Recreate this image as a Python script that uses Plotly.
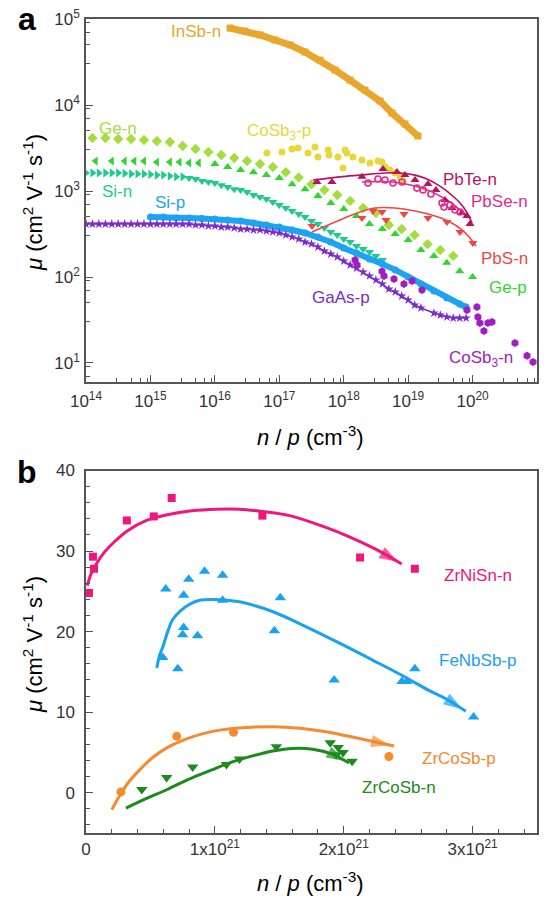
import plotly.graph_objects as go

FONT = "Arial, Liberation Sans, Helvetica, sans-serif"

# ---------------- Panel a data (n in cm^-3, mu in cm^2 V^-1 s^-1) ----------------
insb_n = [1.72e16, 2.94e16, 5.02e16, 8.58e16, 1.47e17, 2.51e17, 4.29e17, 7.33e17,
          1.25e18, 2.14e18, 3.66e18, 5.61e18, 8.93e18, 1.42e19]
insb_mu = [78500, 72400, 65200, 57000, 49900, 41300, 33300, 25500,
           19500, 14900, 11100, 8070, 6010, 4360]

gen_n = [1.26e14, 2.0e14, 3.16e14, 5.01e14, 7.94e14, 1.26e15, 2.0e15, 3.16e15, 5.01e15, 7.94e15,
         1.26e16, 2.0e16, 3.16e16, 5.01e16, 7.94e16, 1.26e17, 2.0e17, 3.16e17, 5.01e17, 7.94e17,
         1.26e18, 2.0e18, 3.16e18, 5.01e18, 7.94e18, 1.26e19, 2.0e19, 3.16e19, 5.01e19]
gen_mu = [4130, 4130, 4030, 4030, 3920, 3820, 3710, 3330, 3080, 2840,
          2620, 2420, 2230, 2060, 1900, 1650, 1440, 1200, 1030, 898,
          767, 634, 555, 403, 362, 308, 241, 206, 176]

gep1_n = [1.41e14, 2.51e14, 3.98e14, 5.62e14, 7.94e14, 1.26e15, 2.0e15, 2.82e15, 3.98e15, 5.62e15]
gep1_mu = [2230, 2230, 2230, 2230, 2230, 2170, 2170, 2170, 2120, 2120]
gep2_n = [1.0e16, 1.58e16, 2.51e16, 3.98e16, 6.31e16, 1.0e17, 1.58e17, 2.51e17, 3.98e17, 6.31e17,
          1.0e18, 1.58e18, 2.51e18, 3.98e18, 6.31e18, 1.0e19, 1.58e19, 2.51e19, 3.98e19, 6.31e19, 1.0e20]
gep2_mu = [2060, 1900, 1750, 1650, 1530, 1420, 1200, 1050, 875, 725,
           618, 512, 413, 361, 316, 269, 206, 175, 146, 117, 100]

sin1_n = [1.0e14, 1.26e14, 1.58e14, 2.0e14, 2.51e14, 3.16e14, 3.98e14, 5.01e14, 6.31e14, 7.94e14,
          1.0e15, 1.26e15, 1.58e15, 2.0e15, 2.51e15, 3.16e15]
sin1_mu = [1620, 1620, 1620, 1620, 1620, 1620, 1600, 1580, 1580, 1580,
           1560, 1530, 1530, 1490, 1460, 1460]
sin2_n = [3.98e15, 5.01e15, 6.31e15, 7.94e15,
          1.0e16, 1.26e16, 1.58e16, 2.0e16, 2.51e16, 3.16e16, 3.98e16, 5.01e16, 6.31e16, 7.94e16,
          1.0e17, 1.26e17, 1.58e17, 2.0e17, 2.51e17, 3.16e17, 3.98e17, 5.01e17, 6.31e17, 7.94e17,
          1.0e18, 1.26e18, 1.58e18, 2.0e18, 2.51e18, 3.16e18, 3.98e18]
sin2_mu = [1420, 1380, 1310, 1270,
           1240, 1170, 1110, 1050, 1030, 973, 898, 851, 807, 745,
           687, 634, 585, 541, 499, 448, 413, 372, 334, 308,
           277, 255, 229, 212, 195, 175, 158]

sip_n = [1.0e15, 1.58e15, 2.51e15, 3.98e15, 6.31e15, 1.0e16, 1.58e16, 2.51e16, 3.98e16, 6.31e16,
         1.0e17, 1.58e17, 2.51e17, 3.98e17, 6.31e17, 1.0e18, 1.58e18, 2.51e18, 3.98e18, 6.31e18,
         1.0e19, 1.58e19, 2.51e19, 3.98e19, 6.31e19, 7.94e19]
sip_mu = [499, 499, 485, 485, 479, 472, 460, 448, 424, 403,
          381, 352, 325, 292, 255, 217, 190, 162, 142, 121,
          100, 83.0, 68.7, 57.0, 48.5, 44.8]

gaas_n = [1.0e14, 1.26e14, 1.58e14, 2.0e14, 2.51e14, 3.16e14, 3.98e14, 5.01e14, 6.31e14, 7.94e14,
          1.0e15, 1.26e15, 1.58e15, 2.0e15, 2.51e15, 3.16e15, 3.98e15, 5.01e15, 6.31e15, 7.94e15,
          1.0e16, 1.26e16, 1.58e16, 2.0e16, 2.51e16, 3.16e16, 3.98e16, 5.01e16, 6.31e16, 7.94e16,
          1.0e17, 1.26e17, 1.58e17, 2.0e17, 2.51e17, 3.16e17, 3.98e17, 5.01e17, 6.31e17, 7.94e17,
          1.0e18, 1.26e18, 1.58e18, 2.0e18, 2.51e18, 3.16e18, 3.98e18, 5.01e18, 6.31e18, 7.94e18,
          1.0e19, 1.26e19, 1.58e19, 2.51e19, 3.16e19, 3.98e19, 5.01e19, 6.31e19, 7.94e19]
gaas_mu = [413, 413, 413, 413, 413, 413, 413, 413, 413, 413,
           413, 413, 413, 413, 413, 413, 413, 403, 403, 392,
           392, 381, 381, 372, 361, 361, 352, 352, 343, 334,
           325, 308, 292, 277, 255, 242, 223, 200, 185, 171,
           153, 138, 127, 114, 103, 92.3, 83.0, 72.4, 67.0, 60.1,
           54.1, 47.2, 43.6, 38.1, 36.1, 34.3, 33.3, 33.3, 33.3]

cosb3n_n = [1.50e18, 1.61e18, 3.93e18, 4.22e18, 6.03e18, 8.61e18, 1.15e19, 1.64e19,
            8.18e19, 1.17e20, 1.21e20, 1.30e20, 1.73e20, 2.0e20, 1.50e20, 4.55e20, 7.0e20, 8.67e20]
cosb3n_mu = [158, 138, 117, 103, 94.8, 83.0, 89.8, 70.6,
             41.3, 44.8, 34.3, 29.2, 29.2, 30.0, 23.6, 17.1, 12.1, 10.3]

cosb3p_n = [6.44e16, 1.10e17, 1.57e17, 1.95e17, 2.79e17, 3.58e17, 3.99e17, 5.70e17, 5.91e17,
            8.15e17, 9.75e17, 1.05e18, 1.12e18, 1.39e18, 1.92e18, 2.56e18, 3.40e18, 3.93e18,
            4.37e18, 5.23e18, 6.25e18, 7.48e18, 8.32e18]
cosb3p_mu = [2770, 2840, 3080, 3160, 2770, 3250, 2480, 3000, 2620,
             2480, 1850, 3000, 2770, 2480, 2290, 2120, 2230, 2170,
             1900, 1750, 1620, 1460, 1310]

pbte_n = [3.85e17, 6.58e17, 1.92e18, 4.07e18, 6.71e18, 8.93e18, 1.28e19, 2.03e19,
          2.70e19, 3.73e19, 4.80e19, 6.85e19, 8.19e19, 9.12e19]
pbte_mu = [1270, 1270, 1460, 1800, 1660, 1530, 1340, 1210,
           1030, 785, 634, 555, 512, 413]
pbte_fit_n = [3.34e17, 8.75e17, 1.79e18, 4.37e18, 7.47e18, 1.28e19, 1.96e19, 3.12e19,
              4.16e19, 5.34e19, 6.38e19, 7.91e19, 9.80e19]
pbte_fit_mu = [1340, 1460, 1530, 1620, 1620, 1530, 1380, 1140,
               973, 829, 725, 585, 424]

pbse_n = [2.38e18, 3.40e18, 4.37e18, 5.82e18, 8.03e18, 1.37e19, 1.70e19, 2.26e19,
          3.35e19, 3.60e19, 4.47e19, 5.34e19, 6.38e19]
pbse_mu = [1240, 1380, 1340, 1240, 1270, 1080, 1030, 923,
           725, 652, 687, 601, 570]
pbse_fit_n = [1.92e18, 5.82e18, 1.96e19, 4.01e19, 6.38e19, 8.19e19]
pbse_fit_mu = [1270, 1270, 1030, 785, 601, 499]

pbs_n = [3.22e17, 1.92e18, 2.85e18, 3.93e18, 4.53e18, 8.63e18, 2.03e19, 4.01e19, 6.38e19, 1.01e20]
pbs_mu = [392, 485, 585, 570, 460, 541, 485, 436, 334, 248]
pbs_fit_n = [3.22e17, 8.75e17, 1.79e18, 3.05e18, 6.25e18, 1.28e19, 2.61e19, 4.47e19,
             6.85e19, 9.12e19, 1.13e20]
pbs_fit_mu = [334, 460, 570, 634, 634, 585, 512, 436, 352, 284, 229]

# ---------------- Panel b data (n in cm^-3, mu in cm^2 V^-1 s^-1) ----------------
zrnisn_n = [0.023e21, 0.054e21, 0.062e21, 0.317e21, 0.526e21, 0.665e21, 1.369e21, 2.127e21, 2.552e21]
zrnisn_mu = [24.8, 29.3, 27.8, 33.8, 34.3, 36.6, 34.4, 29.2, 27.8]
zrnisn_fit_n = [0.01e21, 0.04e21, 0.08e21, 0.14e21, 0.21e21, 0.32e21, 0.47e21, 0.63e21, 0.82e21,
                1.01e21, 1.19e21, 1.37e21, 1.58e21, 1.85e21, 2.04e21, 2.24e21, 2.45e21]
zrnisn_fit_mu = [25.7, 27.2, 28.4, 29.8, 31.0, 32.5, 33.8, 34.5, 35.0,
                 35.2, 35.2, 34.9, 34.4, 33.0, 31.8, 30.3, 28.4]

fenbsb_n = [0.619e21, 0.797e21, 0.920e21, 1.060e21, 0.758e21, 1.060e21, 1.508e21, 0.758e21, 0.750e21,
            0.866e21, 1.462e21, 0.596e21, 0.712e21, 1.926e21, 2.452e21, 2.490e21, 2.552e21, 3.008e21]
fenbsb_mu = [25.3, 26.5, 27.5, 27.0, 24.5, 23.9, 24.2, 20.5, 19.6,
             19.5, 20.1, 16.8, 15.4, 14.0, 13.8, 13.8, 15.4, 9.4]
fenbsb_fit_n = [0.549e21, 0.572e21, 0.596e21, 0.634e21, 0.673e21, 0.735e21, 0.804e21, 0.882e21,
                0.982e21, 1.191e21, 1.446e21, 1.709e21, 1.964e21, 2.220e21, 2.483e21, 2.660e21,
                2.800e21, 2.947e21]
fenbsb_fit_mu = [15.5, 17.1, 18.1, 20.0, 21.5, 22.6, 23.4, 23.9,
                 24.0, 23.7, 22.5, 20.6, 18.6, 16.5, 14.3, 12.7,
                 11.6, 10.1]

zrcosbp_n = [0.271e21, 0.704e21, 1.145e21, 2.351e21]
zrcosbp_mu = [0.1, 7.0, 7.5, 4.5]
zrcosbp_fit_n = [0.20e21, 0.26e21, 0.33e21, 0.42e21, 0.52e21, 0.63e21, 0.75e21, 0.90e21,
                 1.05e21, 1.25e21, 1.46e21, 1.66e21, 1.85e21, 2.04e21, 2.22e21, 2.39e21]
zrcosbp_fit_mu = [-2.1, -0.4, 1.3, 2.9, 4.4, 5.6, 6.5, 7.3, 7.8, 8.1, 8.2, 8.0, 7.6, 7.0, 6.4, 5.8]

zrcosbn_n = [0.433e21, 0.626e21, 0.828e21, 1.090e21, 1.191e21, 1.477e21, 1.895e21, 1.957e21,
             1.941e21, 1.995e21, 2.065e21]
zrcosbn_mu = [0.4, 1.9, 3.2, 3.5, 4.2, 5.7, 6.2, 5.6, 4.7, 5.0, 3.9]
zrcosbn_fit_n = [0.31e21, 0.47e21, 0.63e21, 0.80e21, 0.97e21, 1.13e21, 1.30e21, 1.46e21,
                 1.60e21, 1.76e21, 1.91e21, 2.04e21]
zrcosbn_fit_mu = [-1.9, -0.7, 0.4, 1.7, 2.8, 3.8, 4.6, 5.2, 5.5, 5.4, 4.8, 3.7]

# tick labels
xa_vals = [1e14, 1e15, 1e16, 1e17, 1e18, 1e19, 1e20, 1e21]
xa_text = ["10<sup>14</sup>", "10<sup>15</sup>", "10<sup>16</sup>", "10<sup>17</sup>",
           "10<sup>18</sup>", "10<sup>19</sup>", "10<sup>20</sup>", "10<sup>21</sup>"]
ya_vals = [1e1, 1e2, 1e3, 1e4, 1e5]
ya_text = ["10<sup>1</sup>", "10<sup>2</sup>", "10<sup>3</sup>", "10<sup>4</sup>", "10<sup>5</sup>"]
xb_vals = [0.0, 1e21, 2e21, 3e21]
xb_text = ["0", "1x10<sup>21</sup>", "2x10<sup>21</sup>", "3x10<sup>21</sup>"]
yb_vals = [0, 10, 20, 30, 40]

# colours
C = dict(insb="#E9A62C", gen="#A3DE3E", gep="#2ED62E", sin="#1ECB8C", sip="#1CA4F2",
         gaas="#7B2BC9", cosb3n="#A11EC2", cosb3p="#E6D83A", pbte="#B8125F",
         pbse="#E62A8C", pbs="#F24646",
         zrnisn="#F0167C", fenbsb="#19A2F0", zrcosbp="#F58A2E", zrcosbn="#1C8A1C")

fig = go.Figure()


def pts(x, y, color, symbol, size, xa="x", ya="y", line=None, open_=False):
    mk = dict(color=color, symbol=symbol, size=size, line=dict(width=0))
    if open_:
        mk = dict(color=color, symbol=symbol, size=size, line=dict(width=1.6, color=color))
    mode = "markers" if line is None else "lines+markers"
    tr = go.Scatter(x=x, y=y, mode=mode, marker=mk, xaxis=xa, yaxis=ya,
                    showlegend=False, hoverinfo="skip")
    if line is not None:
        tr.line = dict(color=color, width=line)
    fig.add_trace(tr)


def fit(x, y, color, width, xa="x", ya="y", arrow=False):
    if arrow:
        n = len(x)
        fig.add_trace(go.Scatter(
            x=x, y=y, mode="lines+markers", xaxis=xa, yaxis=ya, showlegend=False,
            hoverinfo="skip", line=dict(color=color, width=width, shape="spline"),
            marker=dict(symbol="arrow", angleref="previous", color=color,
                        size=[0] * (n - 1) + [20], standoff=[0] * (n - 1) + [4],
                        line=dict(width=0))))
    else:
        fig.add_trace(go.Scatter(
            x=x, y=y, mode="lines", xaxis=xa, yaxis=ya, showlegend=False,
            hoverinfo="skip", line=dict(color=color, width=width, shape="spline")))


# panel a
pts(insb_n, insb_mu, C["insb"], "square", 7, line=7)
pts(gen_n, gen_mu, C["gen"], "diamond", 8)
pts(gep1_n, gep1_mu, C["gep"], "triangle-left", 8)
pts(gep2_n, gep2_mu, C["gep"], "triangle-up", 8)
pts(sin1_n, sin1_mu, C["sin"], "triangle-right", 8)
pts(sin2_n, sin2_mu, C["sin"], "triangle-down", 8)
pts(sip_n, sip_mu, C["sip"], "circle", 7, line=6)
pts(gaas_n, gaas_mu, C["gaas"], "star", 7, line=1.5)
pts(cosb3p_n, cosb3p_mu, C["cosb3p"], "circle", 7)
pts(cosb3n_n, cosb3n_mu, C["cosb3n"], "hexagon", 8)
fit(pbte_fit_n, pbte_fit_mu, C["pbte"], 1.6)
fit(pbse_fit_n, pbse_fit_mu, C["pbse"], 1.6)
fit(pbs_fit_n, pbs_fit_mu, C["pbs"], 1.6)
pts(pbte_n, pbte_mu, C["pbte"], "triangle-up", 8)
pts(pbse_n, pbse_mu, C["pbse"], "circle-open", 6, open_=True)
pts(pbs_n, pbs_mu, C["pbs"], "triangle-down", 8)

# panel b
fit(zrnisn_fit_n, zrnisn_fit_mu, C["zrnisn"], 3, "x2", "y2", arrow=True)
fit(fenbsb_fit_n, fenbsb_fit_mu, C["fenbsb"], 3, "x2", "y2", arrow=True)
fit(zrcosbp_fit_n, zrcosbp_fit_mu, C["zrcosbp"], 3, "x2", "y2", arrow=True)
fit(zrcosbn_fit_n, zrcosbn_fit_mu, C["zrcosbn"], 3, "x2", "y2", arrow=True)
pts(zrnisn_n, zrnisn_mu, C["zrnisn"], "square", 8, "x2", "y2")
pts(fenbsb_n, fenbsb_mu, C["fenbsb"], "triangle-up", 10, "x2", "y2")
pts(zrcosbp_n, zrcosbp_mu, C["zrcosbp"], "circle", 9, "x2", "y2")
pts(zrcosbn_n, zrcosbn_mu, C["zrcosbn"], "triangle-down", 10, "x2", "y2")

W, H = 550, 905
AX = "#555555"
common = dict(showline=True, linecolor=AX, linewidth=1.5, mirror=True, ticks="inside",
              ticklen=7, tickwidth=1.3, tickcolor=AX, showgrid=False, zeroline=False,
              automargin=False, tickfont=dict(family=FONT, size=17, color="#333333"))

minor_x_log = [m * 10.0 ** k for k in range(14, 21) for m in (3, 5, 7, 9)]
minor_y_log = [m * 10.0 ** k for k in range(0, 5) for m in (3, 5, 7, 9)]
minor_xb = [k * 2e20 for k in range(1, 18)]
minor_yb = [-4, -2, 2, 4, 6, 8, 12, 14, 16, 18, 22, 24, 26, 28, 32, 34, 36, 38]

fig.update_layout(
    template="none",
    width=W, height=H, autosize=False, margin=dict(l=0, r=0, t=0, b=0, pad=0, autoexpand=False),
    paper_bgcolor="white", plot_bgcolor="white", showlegend=False,
    font=dict(family=FONT),
    xaxis=dict(common, type="log", range=[14, 21], domain=[86 / W, 537 / W], anchor="y",
               tickmode="array", tickvals=xa_vals, ticktext=xa_text, ticklabelstandoff=3,
               minor=dict(tickvals=minor_x_log, ticks="inside", ticklen=4, tickcolor=AX, showgrid=False)),
    yaxis=dict(common, type="log", range=[0.779, 5], domain=[1 - 382 / H, 1 - 19 / H], anchor="x",
               tickmode="array", tickvals=ya_vals, ticktext=ya_text, ticklabelstandoff=1,
               minor=dict(tickvals=minor_y_log, ticks="inside", ticklen=4, tickcolor=AX, showgrid=False)),
    xaxis2=dict(common, range=[0, 3.5e21], domain=[86 / W, 537 / W], anchor="y2",
                tickmode="array", tickvals=xb_vals, ticktext=xb_text, ticklabelstandoff=0,
                minor=dict(tickvals=minor_xb, ticks="inside", ticklen=4, tickcolor=AX, showgrid=False)),
    yaxis2=dict(common, range=[-5, 40], domain=[1 - 833 / H, 1 - 470.5 / H], anchor="x2",
                tickmode="array", tickvals=yb_vals, ticklabelstandoff=6,
                minor=dict(tickvals=minor_yb, ticks="inside", ticklen=4, tickcolor=AX, showgrid=False)),
)


def ann(text, x, y, color, size=17, **kw):
    fig.add_annotation(text=text, x=x / W, y=1 - y / H, xref="paper", yref="paper",
                       showarrow=False, font=dict(family=FONT, size=size, color=color),
                       xanchor="center", yanchor="middle", **kw)


# panel letters
ann("<b>a</b>", 27, 19, "black", size=32)
ann("<b>b</b>", 27, 472, "black", size=32)

# axis titles
ytitle = "<i>μ</i> (cm<sup>2</sup> V<sup>-1</sup> s<sup>-1</sup>)"
xtitle = "<i>n</i> / <i>p</i> (cm<sup>-3</sup>)"
ann(ytitle, 33, 203, "black", size=22, textangle=-90)
ann(ytitle, 33, 645, "black", size=22, textangle=-90)
ann(xtitle, 310, 436, "black", size=22)
ann(xtitle, 310, 882, "black", size=22)

# series labels panel a
ann("InSb-n", 196, 32, C["insb"])
ann("Ge-n", 118, 128, C["gen"])
ann("CoSb<sub>3</sub>-p", 279, 132, C["cosb3p"])
ann("Si-n", 117, 191, C["sin"])
ann("Si-p", 170, 202, C["sip"])
ann("PbTe-n", 470, 179, C["pbte"])
ann("PbSe-n", 499, 201, C["pbse"])
ann("PbS-n", 504, 258, C["pbs"])
ann("Ge-p", 508, 287, C["gep"])
ann("GaAs-p", 341, 297, C["gaas"])
ann("CoSb<sub>3</sub>-n", 481, 359, C["cosb3n"])

# series labels panel b
ann("ZrNiSn-n", 478, 575, C["zrnisn"])
ann("FeNbSb-p", 477, 660, C["fenbsb"])
ann("ZrCoSb-p", 459, 758, C["zrcosbp"])
ann("ZrCoSb-n", 399, 787, C["zrcosbn"])

fig.write_html("out.html", config={"displayModeBar": False},
               post_script="document.body.style.margin='0px';document.body.style.overflow='hidden';")
